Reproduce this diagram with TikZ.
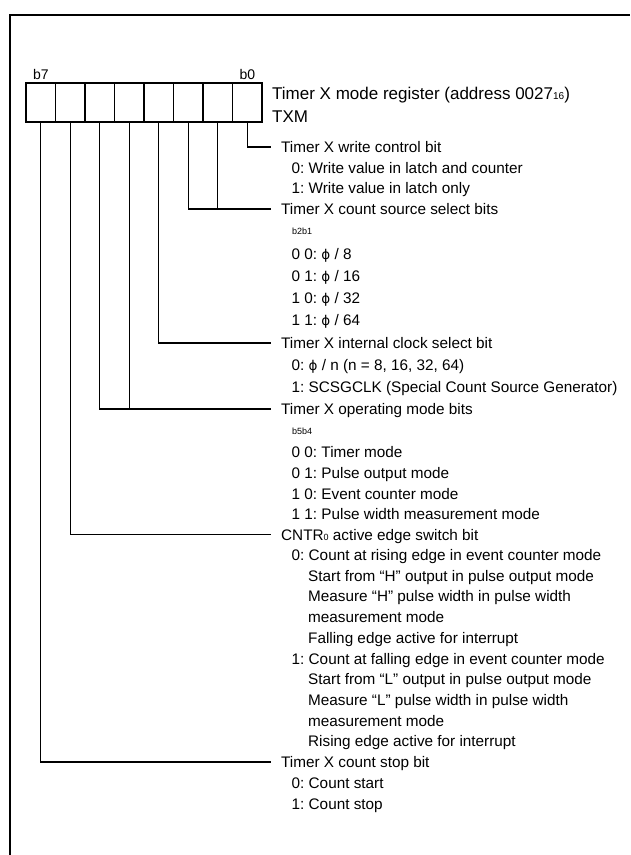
\documentclass[tikz,border=0pt]{standalone}
\usepackage{fontspec}
\setmainfont{Liberation Sans}
\newfontfamily\phifam{DejaVu Sans}
\newcommand{\phisym}{{\phifam\fontsize{13.5}{16}\selectfont ϕ}}
\newcommand{\smallsub}[1]{\raisebox{-0.8pt}{\fontsize{10}{10}\selectfont #1}}
\newcommand{\tinysub}[1]{\raisebox{-0.8pt}{\fontsize{9}{9}\selectfont #1}}
\frenchspacing
\begin{document}
\begin{tikzpicture}[x=1pt,y=-1pt,
  cell/.style={draw, line width=1.1pt, minimum width=29.5pt, minimum height=39pt, inner sep=0pt},
  txt/.style={anchor=west, inner sep=0pt, font=\fontsize{15.3}{18}\selectfont, text height=12pt, text depth=1pt},
  ttl/.style={anchor=west, inner sep=0pt, font=\fontsize{17}{20}\selectfont, text height=13pt, text depth=1pt},
  tiny/.style={anchor=west, inner sep=0pt, font=\fontsize{9}{10}\selectfont},
  blab/.style={inner sep=0pt, font=\fontsize{14}{16}\selectfont},
  conn/.style={line width=1.1pt},
  frame/.style={line width=2.2pt}]
\useasboundingbox (0,0) rectangle (630,855);
% frame (open at right and bottom)
\coordinate (fb) at (10,855);
\coordinate (fc) at (10,15);
\coordinate (fr) at (630,15);
\draw[frame] (fb) -- (fc) -- (fr);
% register cells, b7 at left
\foreach \i in {0,...,7}{
  \node[cell] (c\i) at ({26+29.5*(7-\i+0.5)},102.5) {};
}
\node[blab] (lb7) at (41,74) {b7};
\node[blab] (lb0) at (247.5,74) {b0};
\node[ttl] (title) at (272,93) {Timer X mode register (address 0027\smallsub{16})};
\node[ttl] (txm) at (272,116) {TXM};
% headings and values
\node[txt] (h0) at (281,147) {Timer X write control bit};
\node[txt] (a1) at (291.5,168) {0: Write value in latch and counter};
\node[txt] (a2) at (291.5,188) {1: Write value in latch only};
\node[txt] (h1) at (281,209) {Timer X count source select bits};
\node[tiny] (s1) at (292,231) {b2b1};
\node[txt] (b1) at (291.5,254) {0 0: \phisym{} / 8};
\node[txt] (b2) at (291.5,276) {0 1: \phisym{} / 16};
\node[txt] (b3) at (291.5,298) {1 0: \phisym{} / 32};
\node[txt] (b4) at (291.5,320) {1 1: \phisym{} / 64};
\node[txt] (h2) at (281,343) {Timer X internal clock select bit};
\node[txt] (d1) at (291.5,365) {0: \phisym{} / n (n = 8, 16, 32, 64)};
\node[txt] (d2) at (291.5,387) {1: SCSGCLK (Special Count Source Generator)};
\node[txt] (h3) at (281,409) {Timer X operating mode bits};
\node[tiny] (s2) at (292,431) {b5b4};
\node[txt] (e1) at (291.5,452) {0 0: Timer mode};
\node[txt] (e2) at (291.5,473) {0 1: Pulse output mode};
\node[txt] (e3) at (291.5,493.5) {1 0: Event counter mode};
\node[txt] (e4) at (291.5,514) {1 1: Pulse width measurement mode};
\node[txt] (h4) at (281,534.5) {CNTR\tinysub{0} active edge switch bit};
\node[txt] (f1) at (291.5,555) {0: Count at rising edge in event counter mode};
\node[txt] (f2) at (308,575.7) {Start from “H” output in pulse output mode};
\node[txt] (f3) at (308,596.4) {Measure “H” pulse width in pulse width};
\node[txt] (f4) at (308,617.1) {measurement mode};
\node[txt] (f5) at (308,637.8) {Falling edge active for interrupt};
\node[txt] (g1) at (291.5,658.5) {1: Count at falling edge in event counter mode};
\node[txt] (g2) at (308,679.2) {Start from “L” output in pulse output mode};
\node[txt] (g3) at (308,699.9) {Measure “L” pulse width in pulse width};
\node[txt] (g4) at (308,720.6) {measurement mode};
\node[txt] (g5) at (308,741.3) {Rising edge active for interrupt};
\node[txt] (h5) at (281,762) {Timer X count stop bit};
\node[txt] (k1) at (291.5,783) {0: Count start};
\node[txt] (k2) at (291.5,804) {1: Count stop};
% connectors
\draw[conn] (c0.south) |- ([xshift=-10pt]h0.west);
\draw[conn] (c2.south) |- ([xshift=-10pt]h1.west);
\draw[conn] (c1.south) -- (c1.south |- h1.west);
\draw[conn] (c3.south) |- ([xshift=-10pt]h2.west);
\draw[conn] (c5.south) |- ([xshift=-10pt]h3.west);
\draw[conn] (c4.south) -- (c4.south |- h3.west);
\draw[conn] (c6.south) |- ([xshift=-10pt]h4.west);
\draw[conn] (c7.south) |- ([xshift=-10pt]h5.west);
\end{tikzpicture}
\end{document}
